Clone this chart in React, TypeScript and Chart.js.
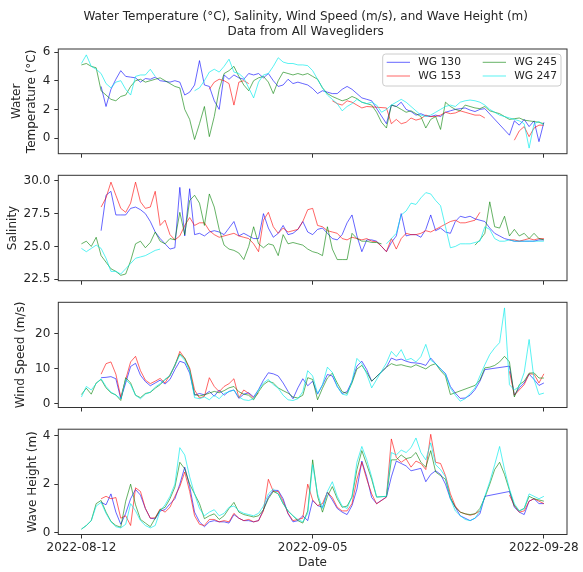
import React, { useEffect, useRef } from "react";
import { Chart, registerables } from "chart.js";

Chart.register(...registerables);

// ---------------- data ----------------
const DAY_STEP = 0.5; // sampling step of every series (days since 2022-08-12)
const TICK_DAYS = [0, 23.5, 47];
const DATE_LABELS = ["2022-08-12", "2022-09-05", "2022-09-28"];
const TITLE_LINES = [
  "Water Temperature (°C), Salinity, Wind Speed (m/s), and Wave Height (m)",
  "Data from All Wavegliders",
];
const SERIES_NAMES = ["WG 130", "WG 153", "WG 245", "WG 247"];

const WT_TICKS = [0, 2, 4, 6];
const SAL_TICKS = [22.5, 25.0, 27.5, 30.0];
const WS_TICKS = [0, 10, 20];
const WH_TICKS = [0, 2, 4];

const WT_130 = [
  null, null, null, null, 3.6, 2.2, 3.4, 4.1, 4.7, 4.3,
  4.25, 4.2, 3.9, 4.15, 4.1, 4.25, 4.0, 3.95, 3.9, 4.0,
  3.9, 3.0, 3.2, 3.7, 5.4, 3.7, 3.6, 2.6, 2.0, 4.4,
  4.1, 4.4, 4.2, 4.1, 4.5, 4.4, 4.5, 4.2, 4.5, 4.0,
  3.6, 3.7, 4.1, 3.8, 3.9, 3.8, 3.7, 3.45, 3.1, 3.3,
  3.2, 3.1, 3.1, 3.4, 3.6, 3.4, 3.1, 2.8, 2.7, 2.6,
  null, null, 1.0, 2.3, 2.2, 2.5, 2.0, 1.85, 1.6, 1.7,
  1.55, 1.5, 1.6, 1.5, 1.8, 1.9, 2.0, 2.05, 2.1, 1.95,
  1.85, 2.0, 2.05, null, null, null, null, 0.2, 1.2, 0.9,
  1.3, 0.8, 1.2, -0.25, 1.1,
];
const WT_153 = [
  null, null, null, null, null, null, null, null, null, null,
  null, null, null, null, null, null, null, null, null, null,
  null, null, null, null, null, null, 3.4, 3.9, 4.1, 4.0,
  3.8, 2.3, 3.9, 4.0, 3.8, null, null, null, null, null,
  null, null, null, null, null, null, null, null, null, null,
  null, 2.6, 2.4, 2.3, 2.6, 2.5, 2.3, 2.1, 2.2, null,
  null, null, 2.1, 1.0, 1.3, 1.0, 1.1, 1.4, 1.25, 1.35,
  1.6, 1.5, 1.5, 1.6, 1.8, 1.7, 1.75, 1.9, 1.8, 1.7,
  1.6, 1.6, 1.4, null, null, null, null, null, -0.15, 0.5,
  0.8, 0.1, 0.7, 0.9, 0.9,
];
const WT_245 = [
  5.1, 5.2, 5.0, 4.9, 3.3, 3.0, 2.7, 2.6, 2.9, 3.0,
  3.6, 4.0, 4.1, 3.9, 4.0, 4.1, 4.2, 4.0, 3.8, 3.6,
  3.5, 2.0, 1.3, -0.1, 1.0, 2.2, 0.1, 1.5, 3.4, 4.5,
  4.7, 5.0, 4.3, 3.7, 3.3, 4.0, 4.2, 4.3, 3.9, 3.1,
  4.0, 4.6, 4.5, 4.4, 4.5, 4.4, 4.5, 4.3, 4.1, 3.5,
  3.1, 2.9, 2.75, 2.6, 2.7, 2.9, 2.75, 2.5, 2.4, 2.3,
  1.8, 1.1, 0.7, 2.3, 2.2, 2.0, 1.8, 1.9, 1.7, 1.5,
  0.7, 1.3, 1.5, 0.6, 2.5, 2.2, 2.0, 1.9, 2.3, 2.2,
  2.1, 2.05, 2.2, 1.9, 1.8, 1.7, 1.5, 1.3, 1.35, 1.4,
  1.25, 1.2, 1.15, 1.1, 1.0,
];
const WT_247 = [
  5.2, 5.8, 5.0, 4.8, 4.5, 3.8, 3.5, 3.9, 4.0, 3.4,
  3.0, 4.3, 4.4, 4.4, 4.8, 4.3, null, null, null, null,
  null, null, null, 3.3, 3.5, 4.0, 4.6, 4.8, 4.6, 5.0,
  5.5, 4.6, 4.5, 4.2, 3.5, 2.8, 3.9, 4.4, 4.5, 5.0,
  5.6, 5.3, 5.2, 5.2, 5.1, 5.1, 5.05, 4.7, 4.1, 3.5,
  3.0, 2.7, 2.4, 1.9, 2.2, 2.4, 2.7, 2.5, 2.4, 2.5,
  2.3, 1.8, 2.0, 2.3, 2.5, 2.7, 2.5, 2.2, 1.9, 1.6,
  1.5, 1.6, 1.8, 2.0, 2.2, 2.3, 2.2, 2.5, 2.6, 2.65,
  2.6, 2.5, 2.3, 2.0, 1.8, 1.6, 1.5, 1.4, 1.3, 1.2,
  1.0, -0.7, 1.0, 1.15, 0.9,
];

const SAL_130 = [
  null, null, null, null, 26.2, 28.9, 29.2, 27.4, 27.4, 27.4,
  27.9, 28.0, 27.8, 27.5, 26.9, 26.1, 25.6, 25.2, 24.8, 24.9,
  29.5, 25.8, 29.4, 25.9, 26.0, 25.8, 26.1, 26.2, 26.1, 25.9,
  26.4, 26.9, 25.8, 26.0, 25.8, 25.6, 25.6, 27.5, 26.4, 25.7,
  26.0, 26.6, 25.9, 26.0, 26.3, 26.9, 26.1, 25.9, 26.3, 26.4,
  26.0, 25.6, 25.5, 25.9, 26.8, 27.4, 25.8, 24.6, 25.5, 25.5,
  25.4, 25.0, 24.6, 25.3, 25.8, 27.5, 25.8, 25.9, 25.9, 25.7,
  26.3, 27.4, 26.2, 26.4, 26.1, 26.0, 26.9, 27.3, 27.2, 27.3,
  27.1, 27.0, 26.9, 26.4, 26.0, 25.8, 25.6, 25.5, 25.4, 25.4,
  25.4, 25.4, 25.4, 25.5, 25.5,
];
const SAL_153 = [
  null, null, null, null, 28.0, 28.7, 29.9, 28.9, 27.9, 27.6,
  28.3, 29.9, 28.4, 27.9, 28.0, 29.2, 26.6, 27.0, 25.9, 25.5,
  25.8, 26.6, 27.2, 26.6, 26.8, 26.8, 26.2, 25.9, 25.7, 25.8,
  25.9, 26.0, 25.8, 25.7, 25.6, 25.2, 24.6, 27.0, 27.6, 26.5,
  26.0, 26.4, 26.1, 26.2, 26.3, 26.9, 27.8, 27.9, 26.6, 26.5,
  26.2, 26.1, 26.0, 25.6, 25.5, 25.7, 25.6, 25.5, 25.6, 25.4,
  25.35, 25.0, 24.6, 25.6, 24.8, 25.6, 26.0, 25.9, 25.9, 26.0,
  26.2, 26.1, 26.3, 26.5, 26.7, 26.9, 27.0, 26.8, 26.8, 26.9,
  27.0, 27.6, null, null, null, null, null, 25.5, 25.5, 25.4,
  25.5, 25.6, 25.5, 25.6, 25.6,
];
const SAL_245 = [
  25.2, 25.4, 25.0, 25.7, 24.3, 23.8, 23.3, 23.1, 22.8, 22.9,
  23.9, 25.2, 25.4, 24.9, 25.3, 26.1, 25.4, 25.2, 25.6, 25.5,
  27.6, 25.9, 28.5, 28.9, 28.3, 26.6, 29.0, 28.0, 26.3, 25.1,
  24.8, 24.7, 24.5, 24.0, 25.0, 26.5, 25.2, 24.9, 25.2, 25.1,
  24.3, 25.9, 25.2, 25.3, 25.2, 25.1, 24.8, 24.6, 24.5, 24.3,
  26.5, 24.8, 24.0, 24.0, 24.0, 26.0, 25.6, 25.4, 25.4, 25.3,
  25.3, 25.2, null, null, null, null, null, null, null, null,
  null, null, null, null, null, null, null, null, null, null,
  25.1, 25.5, 26.0, 28.4, 26.5, 26.4, 27.3, 25.8, 26.3, 25.8,
  26.0, 25.6, 26.0, 25.6, 25.5,
];
const SAL_247 = [
  24.85, 24.6, 24.85, 25.1, 24.85, 24.1, 23.1, 23.1, 22.9, 23.3,
  23.7, 24.1, 24.2, 24.3, 24.5, 24.7, 24.8, null, null, null,
  null, null, null, null, null, null, null, null, null, null,
  null, null, null, null, null, null, null, null, null, null,
  null, null, null, null, null, null, null, null, null, null,
  null, null, null, null, null, null, null, null, null, null,
  null, null, 25.2, 25.6, 26.0, 27.4, 27.7, 28.3, 28.2, 28.7,
  29.1, 29.0, 28.5, 28.1, 26.5, 24.9, 25.0, 25.2, 25.2, 25.2,
  25.3, 25.4, 26.5, 26.3, 25.6, 25.4, 25.4, 25.5, 25.4, 25.4,
  25.4, 25.4, 25.4, 25.4, 25.4,
];

const WS_130 = [
  null, null, null, null, 7.5, 7.6, 7.8, 7.2, 1.5, 6.0,
  10.7, 11.6, 8.2, 6.4, 5.2, 6.0, 6.8, 5.7, 7.0, 9.8,
  12.2, 11.7, 8.8, 2.5, 3.0, 2.6, 3.6, 2.2, 4.0, 2.5,
  3.6, 4.0, 1.6, 2.8, 3.2, 2.0, 4.1, 6.8, 8.9, 8.6,
  8.0, 6.0, 3.6, 1.5, 4.6, 7.2, 5.2, 6.5, 2.8, 5.4,
  8.4, 8.0, 5.0, 3.0, 3.5, 6.5, 10.8, 12.2, 9.8, 6.5,
  null, null, 10.5, 13.1, 12.5, 12.8, 12.2, 11.8, 11.7, 11.5,
  11.0, 13.1, 11.5, 10.0, 8.7, 5.0, 3.1, 1.6, 1.7, 2.5,
  4.1, 6.5, 9.8, null, null, null, null, 10.8, 2.5, 4.6,
  6.0, 8.5, 7.0, 5.3, 6.0,
];
const WS_153 = [
  null, null, null, null, 8.5, 11.5, 12.0, 8.5, 2.0, 7.0,
  12.0, 13.6, 9.5, 6.8, 5.8, 6.5, 7.3, 6.0, 8.4, 10.8,
  15.0, 13.0, 10.3, 4.0, 1.7, 2.2, 7.5, 5.0, 3.5, 5.0,
  5.8, 7.2, 1.8, 4.0, 3.0, 1.7, 3.2, null, null, null,
  null, null, null, null, null, null, null, null, null, null,
  null, null, null, null, null, null, null, null, null, null,
  null, null, null, null, null, null, null, null, null, null,
  null, null, null, null, null, null, null, null, null, null,
  null, null, null, null, null, null, null, 9.3, 2.5, 4.0,
  5.5, 8.6, 8.5, 6.0, 8.6,
];
const WS_245 = [
  2.7, 4.5, 2.8, 6.0, 7.0, 4.6, 3.2, 2.6, 1.0, 7.5,
  6.0, 2.5, 1.8, 3.0, 3.3, 4.5, 5.5, 7.0, 8.0, 11.2,
  14.3, 13.1, 9.8, 2.7, 2.3, 2.6, 3.1, 3.6, 3.2, 3.8,
  4.6, 5.0, 3.5, 2.8, 2.5, 1.2, 3.5, 5.5, 6.5, 6.0,
  4.6, 3.8, 3.1, 2.0, 1.7, 2.5, 7.5, 7.0, 1.2, 4.5,
  7.4, 8.8, 6.0, 3.5, 3.0, 6.0, 10.0, 11.0, 9.0, 6.5,
  null, null, 10.5, 11.5, 11.0, 11.2, 10.8, 10.5, 11.2, 10.6,
  10.0, 11.0, 11.5, 9.5, 8.0, 2.7, null, null, null, null,
  5.3, 6.8, 10.3, 10.5, 11.0, 12.0, 13.6, 12.0, 2.0, 5.5,
  6.5, 8.8, 8.9, 7.4, 7.4,
];
const WS_247 = [
  2.0, 5.0, 4.0, 5.8, 7.2, 5.0, 3.4, 2.5, 1.5, 7.0,
  5.5, 2.5, 1.5, 2.8, 3.4, 4.8, 5.8, 7.0, 8.2, 11.0,
  14.0, 12.5, 9.5, 1.8, 1.5, 2.0, 1.2, 2.5, 1.5, 3.0,
  3.5, 4.0, 2.0, 1.2, 1.0, 1.5, 4.0, 6.0, 7.0, 5.5,
  4.5, 2.5, 1.2, 1.0, 1.5, 3.5, 9.5, 8.0, 3.0, 5.5,
  10.5, 9.0, 5.0, 2.8, 2.5, 6.5, 13.0, 11.5, 8.5, 4.6,
  null, null, 11.7, 15.0, 13.5, 15.5, 12.5, 13.0, 12.0, 13.5,
  17.0, 12.5, 11.5, 10.0, 8.5, 4.5, 2.5, 0.8, 1.5, 3.0,
  4.6, 8.0, 11.2, 14.1, 16.0, 17.5, 27.4, 5.5, 4.0, 5.0,
  9.0, 18.4, 7.0, 2.7, 3.1,
];

const WH_130 = [
  null, null, null, null, 1.26, 1.15, 1.6, 0.85, 0.35, 0.8,
  1.4, 1.78, 1.55, 1.0, 0.6, 0.57, 0.9, 0.95, 1.19, 1.4,
  2.0, 2.7, 1.9, 0.85, 0.45, 0.25, 0.45, 0.5, 0.45, 0.45,
  0.4, 0.75, 0.6, 0.5, 0.5, 0.45, 0.5, 0.95, 1.47, 1.75,
  1.74, 1.4, 0.78, 0.45, 0.5, 0.7, 0.5, 1.33, 1.12, 1.05,
  1.67, 1.35, 1.0, 0.85, 0.75, 1.12, 1.8, 2.95, 2.3, 1.45,
  1.2, null, 1.47, 2.3, 2.95, 2.85, 2.75, 2.55, 2.6, 2.65,
  2.1, 2.4, 2.55, 2.4, 2.0, 1.4, 1.05, 0.7, 0.6, 0.5,
  0.6, 0.78, 1.5, null, null, null, null, 1.7, 1.05, 0.85,
  0.75, 1.3, 1.4, 1.2, 1.2,
];
const WH_153 = [
  null, null, null, null, 1.4, 1.5, 1.4, 1.45, 0.6, 0.7,
  0.3, 1.85, 1.7, 1.0, 0.6, 0.62, 0.98, 0.85, 1.05, 1.5,
  1.9, 2.5, 1.7, 0.7, 0.35, 0.3, 0.55, 0.55, 0.45, 0.5,
  0.45, 0.8, 0.6, 0.5, 0.55, 0.45, 0.5, 0.9, 2.2, 1.7,
  1.7, 1.3, 0.8, 0.5, 0.55, 0.6, 2.0, 1.35, 1.12, 1.2,
  1.67, 1.45, 1.05, 0.9, 0.9, 1.2, 2.2, 2.9, 2.2, 1.6,
  1.19, null, 1.47, 3.86, 3.1, 2.9, 3.04, 2.7, 2.95, 2.85,
  2.6, 4.05, 2.9, 2.85, 2.35, 1.6, 1.1, 0.85, 0.78, 0.72,
  0.78, 0.9, null, null, null, null, null, 1.55, 1.12, 0.85,
  0.9, 1.3, 1.4, 1.3, 1.2,
];
const WH_245 = [
  0.15, 0.3, 0.5, 1.2, 1.33, 0.85, 0.47, 0.3, 0.23, 1.3,
  2.0, 1.15, 0.55, 0.4, 0.25, 0.6, 0.95, 1.05, 1.4, 1.88,
  2.9, 2.63, 2.0, 1.6, 1.2, 0.58, 0.7, 0.78, 0.55, 0.7,
  1.0, 1.25, 0.85, 0.75, 0.7, 0.65, 0.7, 0.95, 1.4, 1.7,
  1.6, 1.2, 0.9, 0.7, 0.5, 0.4, 0.9, 3.0, 1.5, 0.85,
  1.5, 1.9, 1.4, 1.05, 1.1, 1.47, 2.6, 3.38, 2.8, 2.2,
  1.47, null, 1.5, 3.0, 3.0, 3.2, 3.05, 3.1, 3.3, 2.9,
  2.7, 3.38, 2.5, 2.35, 2.2, 1.45, 1.05, 0.85, 0.78, 0.75,
  0.78, 1.0, 1.45, 2.0, 2.6, 2.9, 2.4, 1.75, 1.12, 0.9,
  1.0, 1.5, 1.4, 1.35, 1.3,
];
const WH_247 = [
  0.15, 0.3, 0.5, 1.1, 1.25, 0.8, 0.45, 0.25, 0.2, 0.35,
  1.2, 0.9, 0.5, 0.3, 0.2, 0.3, 0.9, 1.15, 1.5, 2.0,
  3.5, 3.2, 2.3, 1.6, 1.0, 0.7, 0.85, 0.95, 0.7, 0.8,
  1.05, 1.1, 0.9, 0.8, 0.75, 0.7, 0.8, 1.1, 1.6, 1.8,
  1.6, 1.2, 0.9, 0.7, 0.55, 0.45, 0.8, 2.8, 1.6, 1.0,
  1.7, 2.1, 1.5, 1.1, 1.0, 1.5, 2.9, 3.55, 3.0, 2.3,
  1.47, null, 1.5, 3.3, 3.2, 3.4, 3.3, 3.5, 3.9, 3.3,
  3.0, 3.7, 2.8, 2.6, 2.3, 1.4, 0.9, 0.7, 0.55, 0.5,
  0.6, 0.9, 1.5, 2.1, 2.8, 3.55, 2.6, 1.8, 1.2, 0.9,
  1.0, 1.6, 1.5, 1.4, 1.5,
];

// ---------------- styling / layout ----------------
const FONT = "'DejaVu Sans', 'Liberation Sans', sans-serif";
const TEXT_COLOR = "#262626";
const SPINE_COLOR = "#333333";
const SERIES_COLORS = [
  "rgba(0,0,255,0.6)",
  "rgba(255,0,0,0.6)",
  "rgba(0,128,0,0.6)",
  "rgba(0,235,235,0.65)",
];
const X_MIN = -2.35;
const X_MAX = 49.35;
const AXIS_LEFT = 58.3;
const PAD_RIGHT = 16;
const MAX_GAP_DAYS = 2.8;

type PanelCfg = {
  series: (number | null)[][];
  ticks: number[];
  decimals: number;
  min: number;
  max: number;
  ylabel: string | string[];
  top: number;
  height: number;
  padTop: number;
  padLeft: number;
  xAxisHeight: number;
  showX: boolean;
  first: boolean;
};

const PANELS: PanelCfg[] = [
  {
    series: [WT_130, WT_153, WT_245, WT_247], ticks: WT_TICKS, decimals: 0,
    min: -1.09, max: 6.21, ylabel: ["Water", "Temperature (°C)"],
    top: 0, height: 174, padTop: 49, padLeft: 9.2, xAxisHeight: 20.3, showX: false, first: true,
  },
  {
    series: [SAL_130, SAL_153, SAL_245, SAL_247], ticks: SAL_TICKS, decimals: 1,
    min: 22.39, max: 30.42, ylabel: "Salinity",
    top: 155, height: 146, padTop: 20.3, padLeft: 5.5, xAxisHeight: 20.3, showX: false, first: false,
  },
  {
    series: [WS_130, WS_153, WS_245, WS_247], ticks: WS_TICKS, decimals: 0,
    min: -1.0, max: 29.0, ylabel: "Wind Speed (m/s)",
    top: 282, height: 146, padTop: 20.3, padLeft: 13, xAxisHeight: 20.5, showX: false, first: false,
  },
  {
    series: [WH_130, WH_153, WH_245, WH_247], ticks: WH_TICKS, decimals: 0,
    min: -0.07, max: 4.26, ylabel: "Wave Height (m)",
    top: 409, height: 163, padTop: 20.2, padLeft: 25.5, xAxisHeight: 37.5, showX: true, first: false,
  },
];

const LEGEND_BOX = { x: 382.7, y: 54, w: 178.3, h: 32, r: 3 };
const LEGEND_ROWS = [62.3, 76];
const LEGEND_COLS = [386.7, 482.7];
const LEGEND_HANDLE = 23.3;
const LEGEND_TEXT_PAD = 8.3;

function toPoints(vals: (number | null)[]) {
  const pts: { x: number; y: number }[] = [];
  vals.forEach((v, i) => {
    if (v !== null) pts.push({ x: i * DAY_STEP, y: v });
  });
  return pts;
}

const framePlugin = {
  id: "frame",
  afterDraw(chart: any) {
    const { ctx, chartArea } = chart;
    const { left, top, right, bottom } = chartArea;
    ctx.save();
    ctx.strokeStyle = SPINE_COLOR;
    ctx.lineWidth = 1;
    ctx.strokeRect(left, top, right - left, bottom - top);
    ctx.restore();
  },
};

const titlePlugin = {
  id: "suptitle",
  afterDraw(chart: any) {
    const ctx = chart.ctx;
    ctx.save();
    ctx.fillStyle = TEXT_COLOR;
    ctx.font = `12px ${FONT}`;
    ctx.textAlign = "center";
    ctx.textBaseline = "middle";
    ctx.fillText(TITLE_LINES[0], 305.7, 16.5);
    ctx.fillText(TITLE_LINES[1], 305.7, 32.2);
    ctx.restore();
  },
};

const legendPlugin = {
  id: "wgLegend",
  afterDraw(chart: any) {
    const ctx = chart.ctx;
    const { x, y, w, h, r } = LEGEND_BOX;
    ctx.save();
    ctx.beginPath();
    ctx.moveTo(x + r, y);
    ctx.lineTo(x + w - r, y);
    ctx.arcTo(x + w, y, x + w, y + r, r);
    ctx.lineTo(x + w, y + h - r);
    ctx.arcTo(x + w, y + h, x + w - r, y + h, r);
    ctx.lineTo(x + r, y + h);
    ctx.arcTo(x, y + h, x, y + h - r, r);
    ctx.lineTo(x, y + r);
    ctx.arcTo(x, y, x + r, y, r);
    ctx.closePath();
    ctx.fillStyle = "rgba(255,255,255,0.8)";
    ctx.fill();
    ctx.strokeStyle = "#cccccc";
    ctx.lineWidth = 1;
    ctx.stroke();
    ctx.font = `10.7px ${FONT}`;
    ctx.textBaseline = "middle";
    ctx.textAlign = "left";
    SERIES_NAMES.forEach((name, i) => {
      const col = Math.floor(i / 2);
      const row = i % 2;
      const ly = LEGEND_ROWS[row];
      const hx = LEGEND_COLS[col];
      ctx.strokeStyle = SERIES_COLORS[i];
      ctx.lineWidth = 1;
      ctx.beginPath();
      ctx.moveTo(hx, ly);
      ctx.lineTo(hx + LEGEND_HANDLE, ly);
      ctx.stroke();
      ctx.fillStyle = TEXT_COLOR;
      ctx.fillText(name, hx + LEGEND_HANDLE + LEGEND_TEXT_PAD, ly);
    });
    ctx.restore();
  },
};

function Panel({ cfg }: { cfg: PanelCfg }) {
  const ref = useRef<HTMLCanvasElement>(null);
  useEffect(() => {
    const canvas = ref.current;
    if (!canvas) return;
    const datasets = cfg.series.map((vals, s) => ({
      label: SERIES_NAMES[s],
      data: toPoints(vals),
      borderColor: SERIES_COLORS[s],
      backgroundColor: SERIES_COLORS[s],
      borderWidth: 1,
      pointRadius: 0,
      pointHoverRadius: 0,
      tension: 0,
      fill: false,
      spanGaps: MAX_GAP_DAYS,
      order: 3 - s,
    }));
    const tickFont = { family: FONT, size: 12 };
    const titleFont = { family: FONT, size: 12, lineHeight: "15px" };
    const gridOpts = {
      drawOnChartArea: false,
      drawTicks: true,
      tickLength: 4,
      tickColor: SPINE_COLOR,
      tickWidth: 1,
    };
    const plugins: any[] = [framePlugin];
    if (cfg.first) plugins.push(titlePlugin, legendPlugin);
    const chart = new Chart(canvas, {
      type: "line",
      data: { datasets: datasets as any },
      plugins,
      options: {
        animation: false,
        responsive: false,
        maintainAspectRatio: false,
        events: [],
        layout: { padding: { left: cfg.padLeft, right: PAD_RIGHT, top: cfg.padTop, bottom: 0 } },
        plugins: {
          legend: { display: false },
          tooltip: { enabled: false },
          title: { display: false },
        },
        scales: {
          x: {
            type: "linear",
            min: X_MIN,
            max: X_MAX,
            afterBuildTicks: (s: any) => {
              s.ticks = TICK_DAYS.map((v) => ({ value: v }));
            },
            afterFit: (s: any) => {
              s.height = cfg.xAxisHeight;
            },
            grid: gridOpts,
            border: { display: false },
            ticks: {
              display: cfg.showX,
              font: tickFont,
              color: TEXT_COLOR,
              padding: 2,
              maxRotation: 0,
              minRotation: 0,
              autoSkip: false,
              callback: (_v: any, i: number) => DATE_LABELS[i],
            },
            title: {
              display: cfg.showX,
              text: "Date",
              font: titleFont,
              color: TEXT_COLOR,
              padding: { top: 0, bottom: 1.5 },
            },
          },
          y: {
            type: "linear",
            min: cfg.min,
            max: cfg.max,
            afterBuildTicks: (s: any) => {
              s.ticks = cfg.ticks.map((v) => ({ value: v }));
            },
            afterFit: (s: any) => {
              s.width = AXIS_LEFT - cfg.padLeft;
            },
            grid: gridOpts,
            border: { display: false },
            ticks: {
              font: tickFont,
              color: TEXT_COLOR,
              padding: 4,
              callback: (v: any) => Number(v).toFixed(cfg.decimals),
            },
            title: {
              display: true,
              text: cfg.ylabel,
              font: titleFont,
              color: TEXT_COLOR,
              padding: 0,
            },
          },
        },
      } as any,
    });
    return () => chart.destroy();
  }, [cfg]);
  return (
    <canvas
      ref={ref}
      width={583}
      height={cfg.height}
      style={{ position: "absolute", left: 0, top: cfg.top, width: 583, height: cfg.height, display: "block" }}
    />
  );
}

export default function App() {
  return (
    <div style={{ position: "fixed", left: 0, top: 0, width: 583, height: 572, background: "#ffffff" }}>
      {PANELS.map((cfg, i) => (
        <Panel key={i} cfg={cfg} />
      ))}
    </div>
  );
}
